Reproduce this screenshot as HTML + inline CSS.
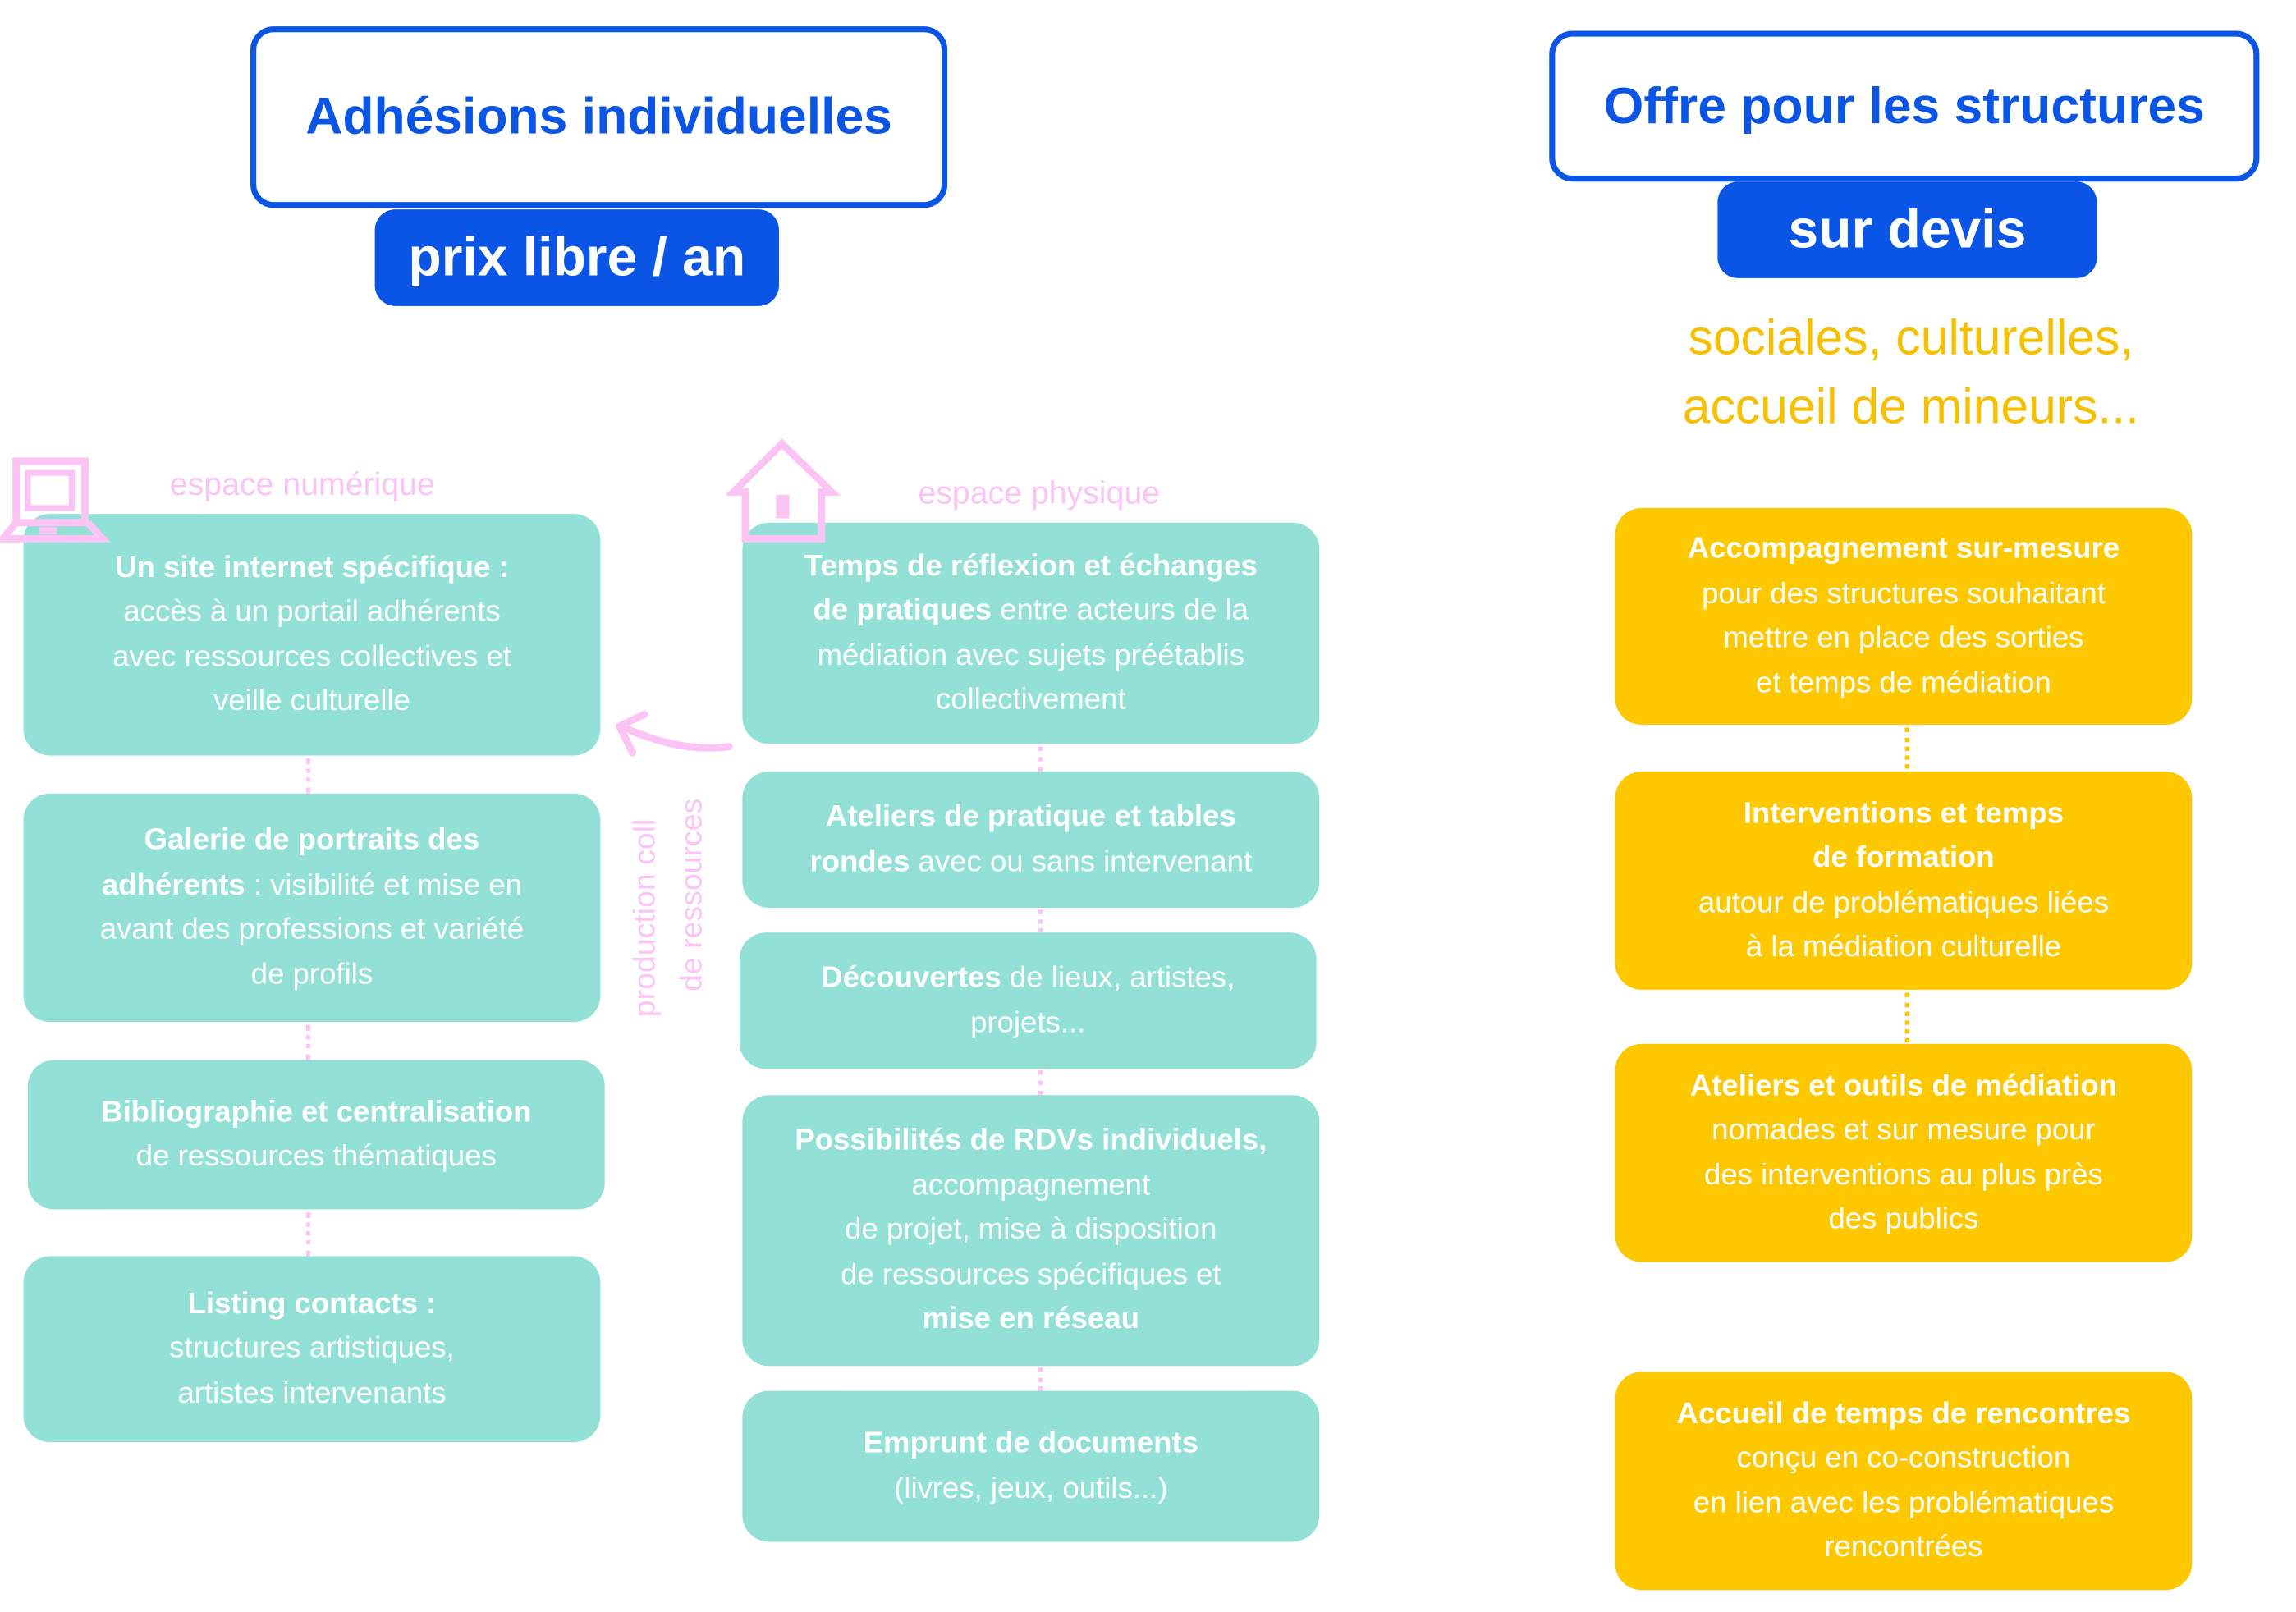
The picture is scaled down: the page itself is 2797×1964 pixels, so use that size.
<!DOCTYPE html>
<html><head><meta charset="utf-8"><style>
html,body{margin:0;padding:0;background:#fff;overflow:hidden}
#root{position:relative;width:1568px;height:1101px;transform:scale(1.7838);transform-origin:0 0;font-family:"Liberation Sans Narrow","Liberation Sans",sans-serif}
.a{position:absolute}
.tb{position:absolute;border:4px solid #0a55e6;border-radius:16px;box-sizing:border-box;background:#fff;color:#0a55e6;font-weight:bold;display:flex;align-items:center;justify-content:center;font-size:35px}
.pill{position:absolute;background:#0a55e6;color:#fff;border-radius:14px;font-weight:bold;display:flex;align-items:center;justify-content:center;font-size:37px}
.bx{position:absolute;border-radius:18px;color:#fff;display:flex;align-items:center;justify-content:center;text-align:center;font-size:20.5px;line-height:30.5px;box-sizing:border-box;padding:0 8px}
.t{background:#92e0d6}.o{background:#fec800}
.dot{position:absolute;width:0;border-left:3px dotted #fbc4f5}
.dot.or{border-left-color:#fec800}
.pk{position:absolute;color:#fbc4f5;font-size:22px}
.ic{z-index:5}
</style></head><body><div id="root">
<div class="tb" style="left:171px;top:18px;width:476px;height:124px">Adhésions individuelles</div>
<div class="pill" style="left:256px;top:143px;width:276px;height:66px">prix libre / an</div>
<div class="tb" style="left:1058px;top:21px;width:485px;height:103px">Offre pour les structures</div>
<div class="pill" style="left:1173px;top:124px;width:259px;height:66px">sur devis</div>
<div class="a" style="left:1060px;top:208px;width:490px;text-align:center;color:#f6c000;font-size:34px;line-height:47px">sociales, culturelles,<br>accueil de mineurs...</div>

<div class="pk" style="left:116px;top:318px">espace numérique</div>
<div class="pk" style="left:627px;top:324px">espace physique</div>

<div class="bx t" style="left:16px;top:351px;width:394px;height:165px"><div><b>Un site internet spécifique :</b><br>accès à un portail adhérents<br>avec ressources collectives et<br>veille culturelle</div></div>
<div class="bx t" style="left:16px;top:542px;width:394px;height:156px"><div><b>Galerie de portraits des<br>adhérents</b> : visibilité et mise en<br>avant des professions et variété<br>de profils</div></div>
<div class="bx t" style="left:19px;top:724px;width:394px;height:102px"><div><b>Bibliographie et centralisation</b><br>de ressources thématiques</div></div>
<div class="bx t" style="left:16px;top:858px;width:394px;height:127px"><div><b>Listing contacts :</b><br>structures artistiques,<br>artistes intervenants</div></div>
<div class="dot" style="left:209px;top:518px;height:24px"></div>
<div class="dot" style="left:209px;top:700px;height:24px"></div>
<div class="dot" style="left:209px;top:828px;height:30px"></div>

<div class="bx t" style="left:507px;top:357px;width:394px;height:151px"><div><b>Temps de réflexion et échanges<br>de pratiques</b> entre acteurs de la<br>médiation avec sujets préétablis<br>collectivement</div></div>
<div class="bx t" style="left:507px;top:527px;width:394px;height:93px"><div><b>Ateliers de pratique et tables<br>rondes</b> avec ou sans intervenant</div></div>
<div class="bx t" style="left:505px;top:637px;width:394px;height:93px"><div><b>Découvertes</b> de lieux, artistes,<br>projets...</div></div>
<div class="bx t" style="left:507px;top:748px;width:394px;height:185px"><div><b>Possibilités de RDVs individuels,</b><br>accompagnement<br>de projet, mise à disposition<br>de ressources spécifiques et<br><b>mise en réseau</b></div></div>
<div class="bx t" style="left:507px;top:950px;width:394px;height:103px"><div><b>Emprunt de documents</b><br>(livres, jeux, outils...)</div></div>
<div class="dot" style="left:709px;top:510px;height:17px"></div>
<div class="dot" style="left:709px;top:621px;height:16px"></div>
<div class="dot" style="left:709px;top:731px;height:17px"></div>
<div class="dot" style="left:709px;top:934px;height:16px"></div>

<svg class="a ic" style="left:0;top:298px" width="80" height="75" viewBox="0 0 80 75">
<rect x="11" y="17" width="47" height="42" fill="none" stroke="#fbc4f5" stroke-width="5"/>
<rect x="19" y="25" width="30" height="24" fill="none" stroke="#fbc4f5" stroke-width="4"/>
<path d="M11 59 L2 70 L70 70 L60 59" fill="none" stroke="#fbc4f5" stroke-width="5"/>
<rect x="27" y="62" width="12" height="5" fill="#fbc4f5"/>
</svg>
<svg class="a ic" style="left:496px;top:298px" width="80" height="75" viewBox="0 0 80 75">
<path d="M5 38 L38 5 L72 38 L65 38 L65 70 L13 70 L13 38 Z" fill="none" stroke="#fbc4f5" stroke-width="5"/>
<rect x="34" y="40" width="9" height="16" fill="#fbc4f5"/>
</svg>

<svg class="a" style="left:410px;top:480px" width="100" height="50" viewBox="0 0 100 50">
<path d="M88 30 C65 33 40 28 14 16" fill="none" stroke="#fbc4f5" stroke-width="5" stroke-linecap="round"/>
<path d="M30 8 L13 16 L22 34" fill="none" stroke="#fbc4f5" stroke-width="5" stroke-linecap="round" stroke-linejoin="round"/>
</svg>
<div class="pk" style="left:457px;top:620px;transform:translate(-50%,-50%) rotate(-90deg);white-space:nowrap;font-size:21px;line-height:32px;text-align:left">production coll<br>&nbsp;&nbsp;&nbsp;de ressources</div>

<div class="bx o" style="left:1103px;top:347px;width:394px;height:148px"><div><b>Accompagnement sur-mesure</b><br>pour des structures souhaitant<br>mettre en place des sorties<br>et temps de médiation</div></div>
<div class="bx o" style="left:1103px;top:527px;width:394px;height:149px"><div><b>Interventions et temps<br>de formation</b><br>autour de problématiques liées<br>à la médiation culturelle</div></div>
<div class="bx o" style="left:1103px;top:713px;width:394px;height:149px"><div><b>Ateliers et outils de médiation</b><br>nomades et sur mesure pour<br>des interventions au plus près<br>des publics</div></div>
<div class="bx o" style="left:1103px;top:937px;width:394px;height:149px"><div><b>Accueil de temps de rencontres</b><br>conçu en co-construction<br>en lien avec les problématiques<br>rencontrées</div></div>
<div class="dot or" style="left:1301px;top:497px;height:28px"></div>
<div class="dot or" style="left:1301px;top:678px;height:34px"></div>
</div></body></html>
